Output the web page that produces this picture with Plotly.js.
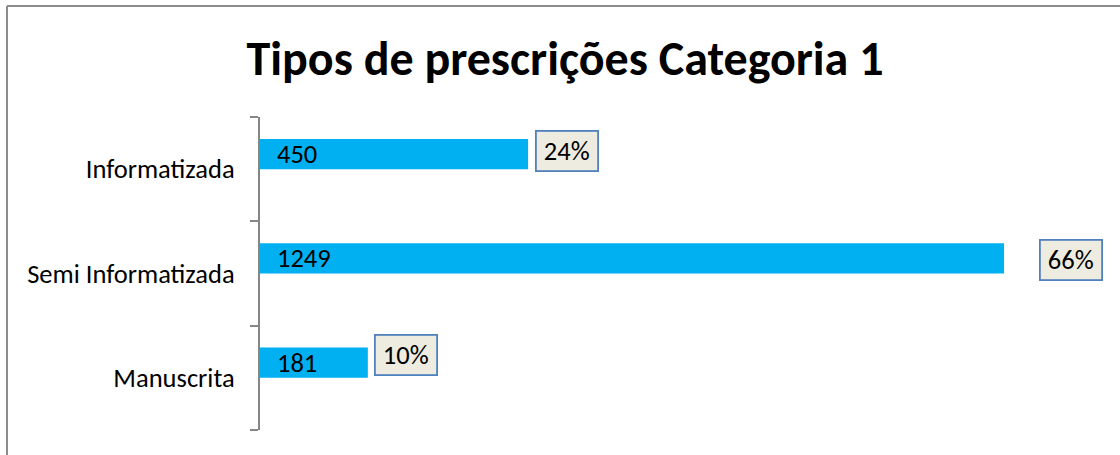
<!DOCTYPE html>
<html><head><meta charset="utf-8">
<script src="https://cdn.plot.ly/plotly-3.0.1.min.js"></script>
<style>html,body{margin:0;padding:0;background:#fff}#chart{width:1120px;height:455px}</style>
</head><body><div id="chart"></div>
<script>
// Data (bottom-to-top order on the axis)
const categories = ['Manuscrita', 'Semi Informatizada', 'Informatizada'];
const values = [181, 1249, 450];
const percentLabels = ['10%', '66%', '24%'];
const titleText = 'Tipos de prescrições Categoria 1';

// Styling
const FONT = 'Carlito, Lato, "Liberation Sans", sans-serif';
const barColor = '#00B0F0';
const barWidth = 0.29;
const pctXShift = [6, 35, 7];
const pctYShift = [8, -2, 3.5];

const trace = {
  type: 'bar', orientation: 'h',
  x: values, y: categories,
  marker: {color: barColor},
  width: barWidth, offset: 0,
  hoverinfo: 'x+y'
};

const annotations = [];
categories.forEach((c, i) => {
  annotations.push({
    x: 0, y: i + barWidth / 2, xref: 'x', yref: 'y',
    text: String(values[i]), showarrow: false,
    xanchor: 'left', yanchor: 'middle', xshift: 15,
    font: {family: FONT, size: 26.5, color: '#000'}
  });
  annotations.push({
    x: values[i], y: i + barWidth / 2, xref: 'x', yref: 'y',
    text: percentLabels[i], showarrow: false,
    xanchor: 'left', yanchor: 'middle', xshift: pctXShift[i], yshift: pctYShift[i],
    width: 58, height: 36,
    bgcolor: '#EEECE1', bordercolor: '#4F81BD', borderwidth: 1.8,
    font: {family: FONT, size: 26.5, color: '#000'}
  });
});

const layout = {
  width: 1120, height: 455,
  margin: {l: 260, r: 20, t: 117, b: 25, pad: 0},
  paper_bgcolor: '#fff', plot_bgcolor: '#fff',
  showlegend: false,
  title: {text: '<b>' + titleText + '</b>', x: 565 / 1120, xanchor: 'center', y: 0.872, yanchor: 'middle',
          font: {family: FONT, size: 48, color: '#000'}},
  xaxis: {range: [0, 1410], visible: false, fixedrange: true},
  yaxis: {
    type: 'category', categoryorder: 'array', categoryarray: categories,
    range: [-0.5, 2.5],
    showline: true, linecolor: '#868686', linewidth: 2,
    ticks: 'outside', tickson: 'boundaries', ticklen: 8, tickwidth: 2, tickcolor: '#868686',
    showgrid: false, zeroline: false,
    ticklabelstandoff: 18,
    tickfont: {family: FONT, size: 26.5, color: '#000'},
    fixedrange: true
  },
  annotations: annotations,
  shapes: [
    {type: 'line', xref: 'paper', yref: 'paper', x0: (7 - 260) / 840, x1: 1.1, y0: (430 - 6) / 313, y1: (430 - 6) / 313,
     line: {color: '#8C8C8C', width: 2}},
    {type: 'line', xref: 'paper', yref: 'paper', x0: (7 - 260) / 840, x1: (7 - 260) / 840, y0: (430 - 6) / 313, y1: -0.2,
     line: {color: '#8C8C8C', width: 2}}
  ]
};

Plotly.newPlot('chart', [trace], layout, {displayModeBar: false, staticPlot: true});
</script></body></html>
